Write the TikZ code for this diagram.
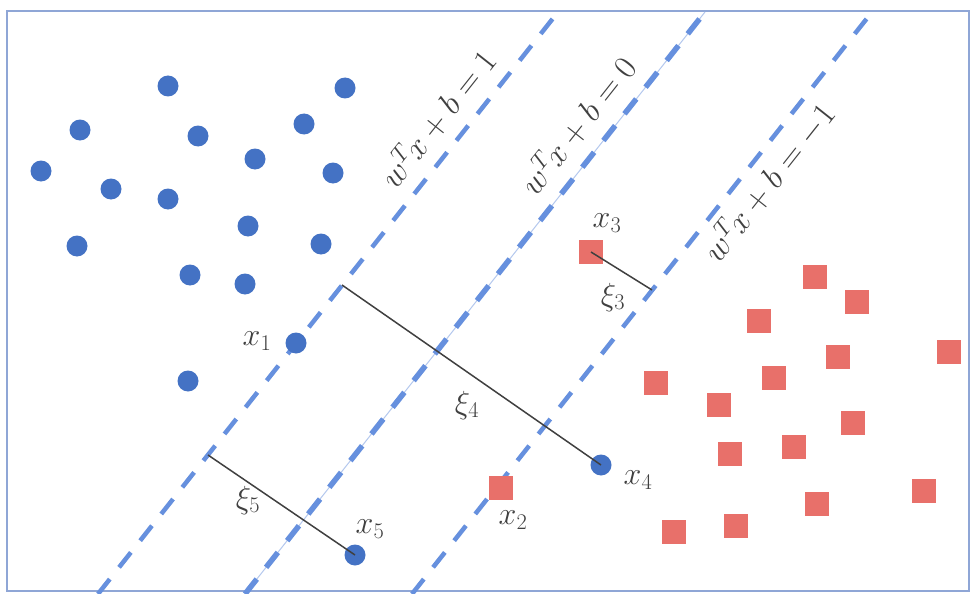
\RequirePackage{fix-cm}
\documentclass[tikz,border=0pt]{standalone}
\usepackage{amsmath}
\begin{document}
\definecolor{dotblue}{HTML}{4472C4}
\definecolor{lineblue}{HTML}{6690DE}
\definecolor{palelineblue}{HTML}{B4C8EE}
\definecolor{sqred}{HTML}{E8706A}
\definecolor{txtgray}{HTML}{404040}
\definecolor{framec}{HTML}{8FA6D6}
\begin{tikzpicture}[x=1pt,y=-1pt,
  bdot/.style={circle,fill=dotblue,inner sep=0pt,minimum size=21pt},
  rsq/.style={rectangle,fill=sqred,inner sep=0pt,minimum size=24pt},
  hyper/.style={lineblue,line width=4.5pt,dash pattern=on 19pt off 15pt},
  midhyper/.style={lineblue,line width=5.5pt,dash pattern=on 19pt off 15pt},
  paleline/.style={palelineblue,line width=1pt},
  slack/.style={txtgray,line width=1.5pt},
  eqlabel/.style={txtgray,rotate=51.65,font=\fontsize{33}{40}\selectfont,inner sep=0pt},
  ptlabel/.style={txtgray,font=\fontsize{32}{38}\selectfont,inner sep=0pt}]
\useasboundingbox (0,0) rectangle (970,594);
\fill[white] (0,0) rectangle (970,594);
\draw[framec,line width=1.5pt] (7,11) rectangle (969,591);

% hyperplane end points
\coordinate (h1b) at (98,594);  \coordinate (h1t) at (558,12);
\coordinate (h2b) at (245,594); \coordinate (h2t) at (705,12);
\coordinate (h3b) at (412,594); \coordinate (h3t) at (872,12);
\draw[paleline] (h2b) -- (h2t);
\draw[hyper] (h1b) -- (h1t);
\draw[midhyper] (h2b) -- (h2t);
\draw[hyper] (h3b) -- (h3t);

% blue points
\foreach \p/\q [count=\i] in {168/86,345/88,80/130,198/136,304/124,41/171,255/159,333/173,111/189,168/199,248/226,77/246,321/244,190/275,245/284,188/381}
  \node[bdot] (b\i) at (\p,\q) {};
\node[bdot] (x1) at (296,343) {};
\node[bdot] (x4) at (601,465) {};
\node[bdot] (x5) at (355,555) {};

% red points
\foreach \p/\q [count=\i] in {815/277,857/302,759/321,949/352,838/357,774/378,656/383,719/405,853/423,794/447,730/454,924/491,817/504,674/532,736/526}
  \node[rsq] (r\i) at (\p,\q) {};
\node[rsq] (x3) at (591,252) {};
\node[rsq] (x2) at (501,488) {};

% slack segments
\coordinate (s4) at (342,285);
\coordinate (s5) at (208,455);
\coordinate (s3) at (652,290);
\draw[slack] (s4) -- (x4.center);
\draw[slack] (s5) -- (x5.center);
\draw[slack] (x3.center) -- (s3);

% hyperplane labels
\node[eqlabel] (e1) at (437,118) {$w^T\mkern-2mu x+b=1$};
\node[eqlabel] (e2) at (577,125) {$w^T\mkern-2mu x+b=0$};
\node[eqlabel] (e3) at (768,182) {$w^T\mkern-2mu x+b=-1$};

% point labels
\node[ptlabel] (l1) at (257,341) {$x_1$};
\node[ptlabel] (l2) at (513,520) {$x_2$};
\node[ptlabel] (l3) at (607,223) {$x_3$};
\node[ptlabel] (l4) at (638,480) {$x_4$};
\node[ptlabel] (l5) at (370,529) {$x_5$};
\node[ptlabel] (k3) at (613,297) {$\xi_3$};
\node[ptlabel] (k4) at (467,405) {$\xi_4$};
\node[ptlabel] (k5) at (248,500) {$\xi_5$};
\end{tikzpicture}
\end{document}
